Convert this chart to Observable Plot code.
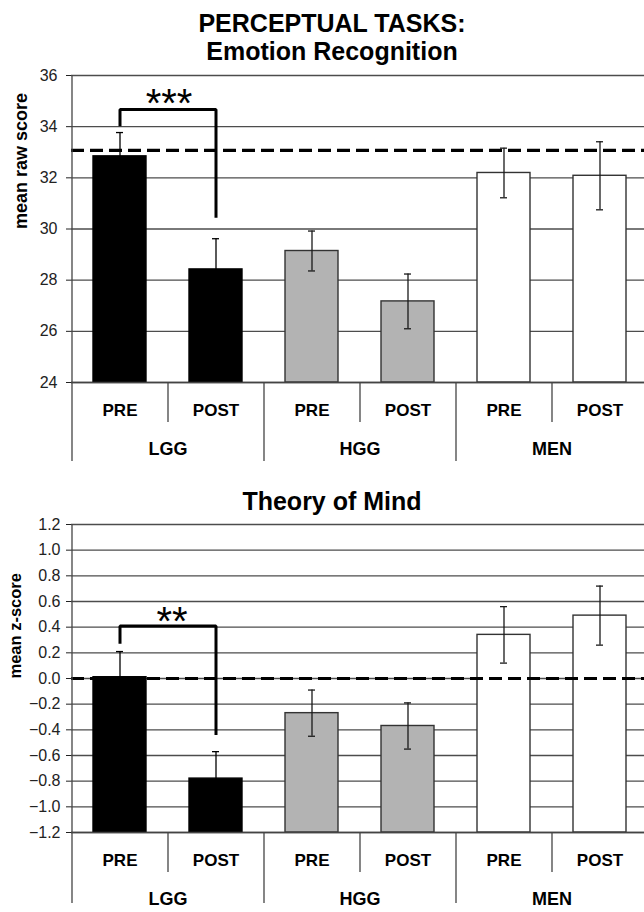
<!DOCTYPE html>
<html><head><meta charset="utf-8">
<script src="https://cdn.jsdelivr.net/npm/d3@7"></script>
<script src="https://cdn.jsdelivr.net/npm/@observablehq/plot@0.6"></script>
<style>
body{margin:0;background:#fff;font-family:Arial,"Liberation Sans",sans-serif;}
#wrap{position:relative;width:644px;height:912px;overflow:hidden;background:#fff;}
.title{position:absolute;left:0;width:664px;text-align:center;font-weight:bold;font-size:25px;line-height:28px;color:#000;}
#c1{position:absolute;left:0;top:62px;}
#c2{position:absolute;left:0;top:512px;}
</style></head><body>
<div id="wrap">
<div class="title" style="top:9px">PERCEPTUAL TASKS:<br>Emotion Recognition</div>
<div id="c1"></div>
<div class="title" style="top:487px">Theory of Mind</div>
<div id="c2"></div>
</div>
<script>
// ---- data ----
const groups = ["LGG", "HGG", "MEN"];
const phases = ["PRE", "POST"];

const emotionMean = [32.84, 28.42, 29.14, 27.17, 32.19, 32.08];
const emotionErr  = [0.93, 1.20, 0.78, 1.07, 0.97, 1.33];
const emotionNorm = 33.07;
const emotionTicks = [24, 26, 28, 30, 32, 34, 36];
const emotionBracketY = [34.02, 34.67, 34.67, 30.44];
const emotionStars = "***";
const emotionStarsY = 35.28;

const tomMean = [0.01, -0.78, -0.27, -0.37, 0.34, 0.49];
const tomErr  = [0.20, 0.21, 0.18, 0.18, 0.22, 0.23];
const tomNorm = 0;
const tomTicks = [-1.2, -1.0, -0.8, -0.6, -0.4, -0.2, 0.0, 0.2, 0.4, 0.6, 0.8, 1.0, 1.2];
const tomBracketY = [0.27, 0.41, 0.41, -0.44];
const tomStars = "**";
const tomStarsY = 0.516;

// ---- helpers ----
const fills = {LGG: "#000", HGG: "#b3b3b3", MEN: "#fff"};
const strokes = {LGG: "#000", HGG: "#333", MEN: "#333"};
const errStrokes = {LGG: "#000", HGG: "#1a1a1a", MEN: "#1a1a1a"};
const keyOf = (g, p) => g + "|" + p;

function buildRows(means, errs) {
  const rows = [];
  groups.forEach((g, gi) => phases.forEach((p, pi) => {
    const i = gi * phases.length + pi;
    rows.push({key: keyOf(g, p), group: g, phase: p, mean: means[i], err: errs[i]});
  }));
  return rows;
}
function buildBracket(ys) {
  const xs = [keyOf("LGG", "PRE"), keyOf("LGG", "PRE"), keyOf("LGG", "POST"), keyOf("LGG", "POST")];
  return ys.map((y, i) => ({x: xs[i], y}));
}

function chart({rows, ticks, norm, bracket, stars, starsY, starsDx, yLabel, labelSize, labelDx,
                tickFormat, tickPadding, height, marginTop, marginBottom}) {
  const keys = rows.map(d => d.key);
  const base = ticks[0];
  const plotH = height - marginTop - marginBottom;
  const half = 48;
  const within = groups.map(g => ({key: keyOf(g, "POST")}));
  const groupDiv = groups.slice(1).map(g => ({key: keyOf(g, "PRE")}));
  const errMarks = groups.flatMap(g => {
    const r = rows.filter(d => d.group === g);
    const s = {stroke: errStrokes[g], strokeWidth: 1.3};
    return [
      Plot.ruleX(r, {x: "key", y1: d => d.mean - d.err, y2: d => d.mean + d.err, ...s}),
      Plot.tickY(r, {x: "key", y: d => d.mean + d.err, insetLeft: 23, insetRight: 23, ...s}),
      Plot.tickY(r, {x: "key", y: d => d.mean - d.err, insetLeft: 23, insetRight: 23, ...s})
    ];
  });
  return Plot.plot({
    width: 644, height, marginTop, marginBottom, marginLeft: 71, marginRight: 0,
    style: {fontFamily: "Arial, 'Liberation Sans', sans-serif", background: "transparent", overflow: "visible", color: "#000"},
    x: {domain: keys, range: [71, 647], paddingInner: 0.45, paddingOuter: 0.225, axis: null},
    y: {domain: [ticks[0], ticks[ticks.length - 1]], axis: null},
    marks: [
      Plot.ruleY(ticks, {stroke: "#4d4d4d", strokeWidth: 1.3}),
      ...groups.map(g => Plot.barY(rows.filter(d => d.group === g),
        {x: "key", y1: base, y2: "mean", fill: fills[g], stroke: strokes[g], strokeWidth: 1.4})),
      ...errMarks,
      Plot.ruleY([norm], {stroke: "#000", strokeWidth: 3.2, strokeDasharray: "13,6"}),
      Plot.line(bracket, {x: "x", y: "y", stroke: "#000", strokeWidth: 3, strokeLinejoin: "miter", strokeLinecap: "butt"}),
      Plot.text([stars], {x: () => keyOf("LGG", "PRE"), y: () => starsY, text: d => d, dx: starsDx, dy: 10,
        fontSize: 40, fontWeight: "normal", fill: "#000", lineAnchor: "middle"}),
      // y axis line + first group divider
      Plot.ruleX([{key: keyOf("LGG", "PRE")}], {x: "key", dx: -half, insetBottom: -(marginBottom - 9), stroke: "#444", strokeWidth: 1.3}),
      Plot.ruleX(within, {x: "key", dx: -half, insetTop: plotH, insetBottom: -40, stroke: "#444", strokeWidth: 1.3}),
      Plot.ruleX(groupDiv, {x: "key", dx: -half, insetTop: plotH, insetBottom: -(marginBottom - 9), stroke: "#444", strokeWidth: 1.3}),
      Plot.ruleY([base], {stroke: "#444", strokeWidth: 1.4}),
      Plot.axisY(ticks, {tickSize: 5, tickPadding, fontSize: 16, tickFormat, label: null, color: "#222"}),
      Plot.text(rows, {x: "key", text: "phase", frameAnchor: "bottom", dy: 28, fontSize: 17, fontWeight: "bold", fill: "#000", lineAnchor: "middle"}),
      Plot.text(groups, {x: g => keyOf(g, "POST"), text: g => g, frameAnchor: "bottom", dx: -half, dy: 67, fontSize: 18, fontWeight: "bold", fill: "#000", lineAnchor: "middle"}),
      Plot.text([yLabel], {frameAnchor: "left", dx: labelDx, rotate: -90, text: d => d, fontSize: labelSize, fontWeight: "bold", fill: "#000"})
    ]
  });
}

document.getElementById("c1").append(chart({
  rows: buildRows(emotionMean, emotionErr), ticks: emotionTicks, norm: emotionNorm,
  bracket: buildBracket(emotionBracketY), stars: emotionStars, starsY: emotionStarsY, starsDx: 49,
  yLabel: "mean raw score", labelSize: 18, labelDx: -50,
  tickFormat: d3.format("d"), tickPadding: 9, height: 408, marginTop: 13, marginBottom: 88
}));
document.getElementById("c2").append(chart({
  rows: buildRows(tomMean, tomErr), ticks: tomTicks, norm: tomNorm,
  bracket: buildBracket(tomBracketY), stars: tomStars, starsY: tomStarsY, starsDx: 52,
  yLabel: "mean z-score", labelSize: 16.5, labelDx: -56,
  tickFormat: d3.format(".1f"), tickPadding: 6, height: 400, marginTop: 12, marginBottom: 80
}));
</script>
</body></html>
